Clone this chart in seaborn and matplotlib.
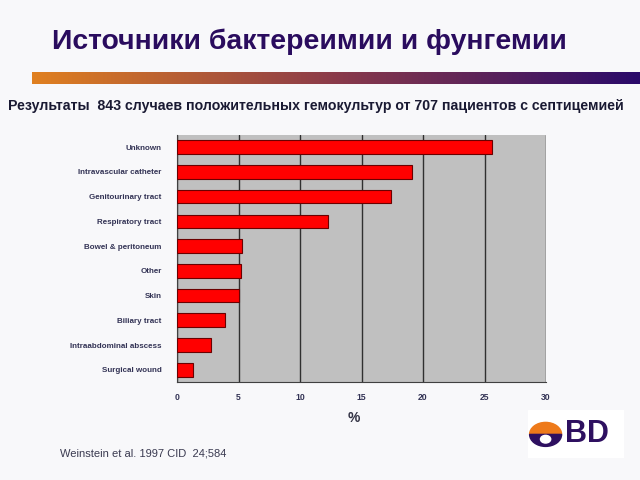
import numpy as np
import pandas as pd
import seaborn as sns
import matplotlib.pyplot as plt
from matplotlib.colors import LinearSegmentedColormap
from matplotlib.patches import Wedge, Circle

# --- data ---
sources = [
    "Unknown",
    "Intravascular catheter",
    "Genitourinary tract",
    "Respiratory tract",
    "Bowel & peritoneum",
    "Other",
    "Skin",
    "Biliary tract",
    "Intraabdominal abscess",
    "Surgical wound",
]
percent = [25.6, 19.1, 17.4, 12.3, 5.3, 5.2, 5.0, 3.9, 2.8, 1.3]
x_ticks = [0, 5, 10, 15, 20, 25, 30]

title = "Источники бактереимии и фунгемии"
subtitle = "Результаты  843 случаев положительных гемокультур от 707 пациентов с септицемией"
citation = "Weinstein et al. 1997 CID  24;584"

df = pd.DataFrame({"source": sources, "percent": percent})

sns.set_theme(style="white")
plt.rcParams["font.family"] = ["Liberation Sans", "DejaVu Sans"]

fig = plt.figure(figsize=(6.4, 4.8), dpi=100, facecolor="#f8f8fa")

# --- main bar chart ---
ax = fig.add_axes([0.2766, 0.204, 0.5766, 0.515])
ax.set_facecolor("#c0c0c0")
sns.barplot(
    data=df,
    x="percent",
    y="source",
    orient="h",
    color="#ff0000",
    saturation=1,
    edgecolor="#6a0000",
    linewidth=0.8,
    width=0.55,
    ax=ax,
    zorder=3,
)
ax.set_xlim(0, 30)
ax.set_xticks(x_ticks)
ax.xaxis.grid(True, color="#303030", linewidth=1.0, zorder=1)
ax.set_axisbelow(True)
for side in ["top", "right"]:
    ax.spines[side].set_visible(False)
ax.spines["left"].set_color("#404040")
ax.spines["bottom"].set_color("#404040")
ax.spines["left"].set_linewidth(0.8)
ax.spines["bottom"].set_linewidth(0.8)
ax.tick_params(axis="y", labelsize=5.8, colors="#333355", length=3, width=0.6, pad=8)
ax.tick_params(axis="x", labelsize=6.2, colors="#333355", length=3, width=0.6, pad=5)
for lbl in ax.get_yticklabels() + ax.get_xticklabels():
    lbl.set_fontweight("bold")
ax.set_ylabel("")
ax.set_xlabel("%", fontsize=10, fontweight="bold", color="#333344")
ax.xaxis.set_label_coords(0.48, -0.115)

# --- title, gradient rule, subtitle ---
fig.text(0.081, 0.913, title, fontsize=20.4, fontweight="bold", color="#2a0c5e",
         va="center", ha="left")

grad_ax = fig.add_axes([0.05, 0.825, 0.95, 0.025])
cmap = LinearSegmentedColormap.from_list("rule", ["#e08020", "#8a3a4a", "#2a0a6a"])
grad_ax.imshow(np.linspace(0, 1, 256).reshape(1, -1), aspect="auto", cmap=cmap)
grad_ax.axis("off")

fig.text(0.0125, 0.779, subtitle, fontsize=10.2, fontweight="bold", color="#1a1a33",
         va="center", ha="left")

fig.text(0.094, 0.055, citation, fontsize=8, color="#3a3a50", va="center", ha="left")

# --- BD logo ---
logo_ax = fig.add_axes([0.825, 0.045, 0.15, 0.1])
logo_ax.set_xlim(0, 3)
logo_ax.set_ylim(0, 2)
logo_ax.axis("off")
logo_ax.add_patch(plt.Rectangle((0, 0), 3, 2, color="white"))
logo_ax.add_patch(Wedge((0.55, 1.0), 0.5, 0, 180, color="#ee7a1a"))
logo_ax.add_patch(Wedge((0.55, 1.0), 0.5, 180, 360, color="#2e1060"))
logo_ax.add_patch(Circle((0.55, 0.8), 0.16, color="white"))
logo_ax.text(1.15, 1.0, "BD", fontsize=22, fontweight="bold", color="#2e1060",
             va="center", ha="left")

fig.savefig("out.png", dpi=100, facecolor=fig.get_facecolor())
